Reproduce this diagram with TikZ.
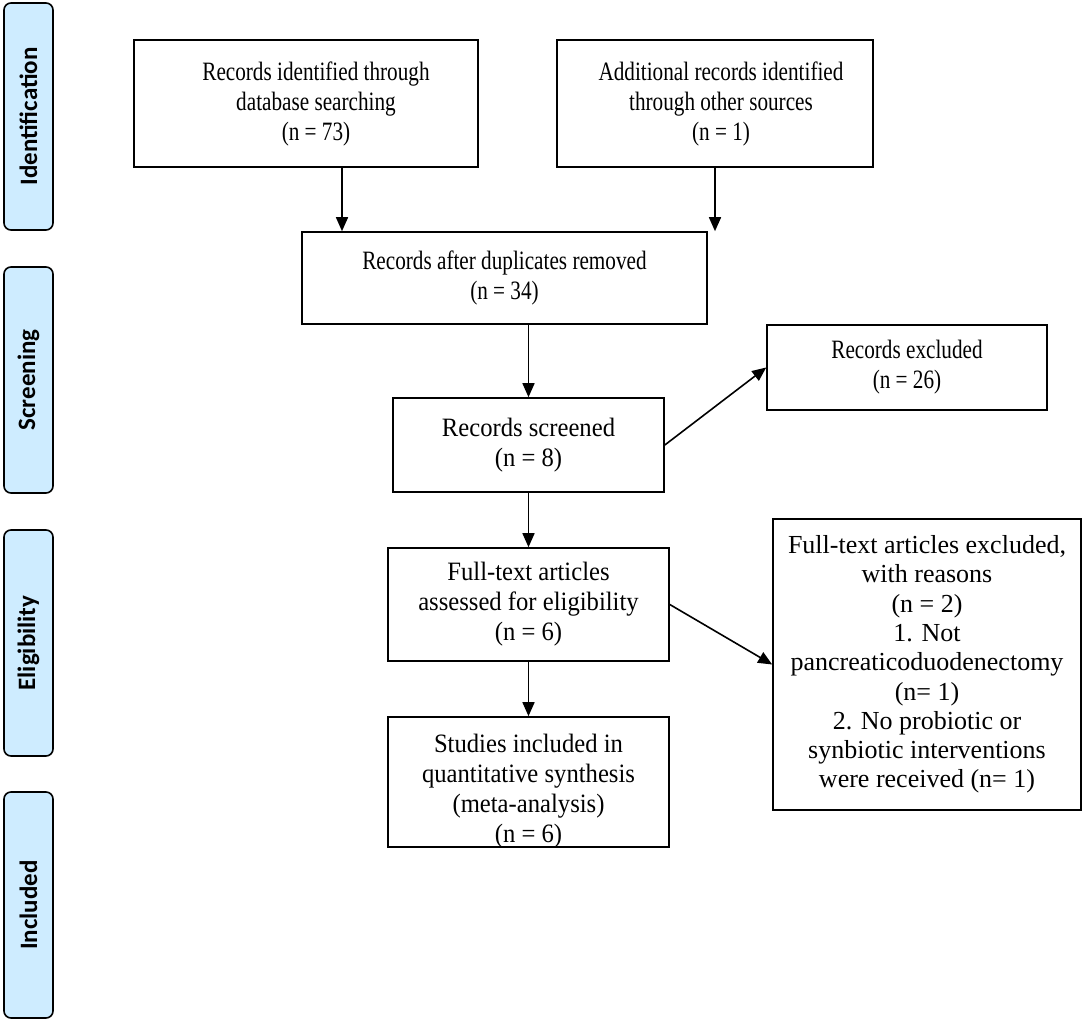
\documentclass[tikz,border=0pt]{standalone}
\usepackage{fontspec}
\setmainfont{Liberation Serif}
\newfontfamily\narrowA[FakeStretch=0.80]{Liberation Serif}
\newfontfamily\narrowB[FakeStretch=0.93]{Liberation Serif}
\newfontfamily\barfont{Carlito}
\usetikzlibrary{arrows.meta}
\definecolor{barblue}{RGB}{206,236,255}
\begin{document}
\begin{tikzpicture}[x=1pt,y=-1pt,
  box/.style={draw,line width=1.6pt,rectangle,inner sep=0pt,align=center},
  fA/.style={font=\narrowA\fontsize{26.5}{30}\selectfont},
  fB/.style={font=\narrowB\fontsize{26.5}{30}\selectfont},
  txt/.style={inner sep=0pt,align=center},
  bar/.style={draw,line width=1.6pt,rounded corners=7pt,fill=barblue,minimum width=49pt,inner sep=0pt},
  bartext/.style={rotate=90,font=\barfont\bfseries\fontsize{25}{28}\selectfont},
  arr/.style={line width=1.6pt,-{Triangle[length=14pt,width=12pt]}}]
\useasboundingbox (0,0) rectangle (1084,1023);
% side bars
\node[bar,minimum height=227pt] (b1) at (28.5,116.5) {};
\node[bartext] at (b1.center) {Identification};
\node[bar,minimum height=226pt] (b2) at (28.5,380) {};
\node[bartext] at (b2.center) {Screening};
\node[bar,minimum height=226pt] (b3) at (28.5,643) {};
\node[bartext] at (b3.center) {Eligibility};
\node[bar,minimum height=226pt] (b4) at (28.5,905) {};
\node[bartext] at (b4.center) {Included};
% boxes
\node[box,minimum width=344pt,minimum height=127pt] (n1) at (306,103.5) {};
\node[txt,fA] (t1) at (316,103.5) {Records identified through\\database searching\\(n = 73)};
\node[box,minimum width=316pt,minimum height=127pt] (n2) at (715,103.5) {};
\node[txt,fA] (t2) at (721,103.5) {Additional records identified\\through other sources\\(n = 1)};
\node[box,fA,minimum width=405pt,minimum height=92pt] (n3) at (504.5,278) {Records after duplicates removed\\(n = 34)};
\node[box,fA,minimum width=280pt,minimum height=85pt] (n4) at (907,367.5) {Records excluded\\(n = 26)};
\node[box,fB,minimum width=271pt,minimum height=94pt] (n5) at (528.5,445) {Records screened\\(n = 8)};
\node[box,minimum width=281pt,minimum height=113pt] (n6) at (528.5,604.5) {};
\begin{scope}
\clip (390,549) rectangle (667,646);
\node[txt,fB] (t6) at (528.5,604) {Full-text articles\\assessed for eligibility\\(n = 6)};
\end{scope}
\node[box,minimum width=308pt,minimum height=291pt,font=\fontsize{26}{29.3}\selectfont] (n7) at (927,664.5) {Full-text articles excluded,\\with reasons\\(n = 2)\\1. Not\\pancreaticoduodenectomy\\(n= 1)\\2. No probiotic or\\synbiotic interventions\\were received (n= 1)};
\node[box,minimum width=281pt,minimum height=130pt] (n8) at (528.5,782) {};
\node[txt,fB] (t8) at (528.5,791) {Studies included in\\quantitative synthesis\\(meta-analysis)\\(n = 6)};
% arrows
\draw[arr] (n1.south -| 342,0) -- (n3.north -| 342,0);
\draw[arr] (n2.south) -- (n3.north -| n2.south);
\draw[arr] (n3.south -| n5.north) -- (n5.north);
\draw[arr] (n5.east) -- (n4.west);
\draw[arr] (n5.south) -- (n6.north);
\draw[arr] (n6.east) -- (n7.west);
\draw[arr] (n6.south) -- (n8.north);
\end{tikzpicture}
\end{document}
